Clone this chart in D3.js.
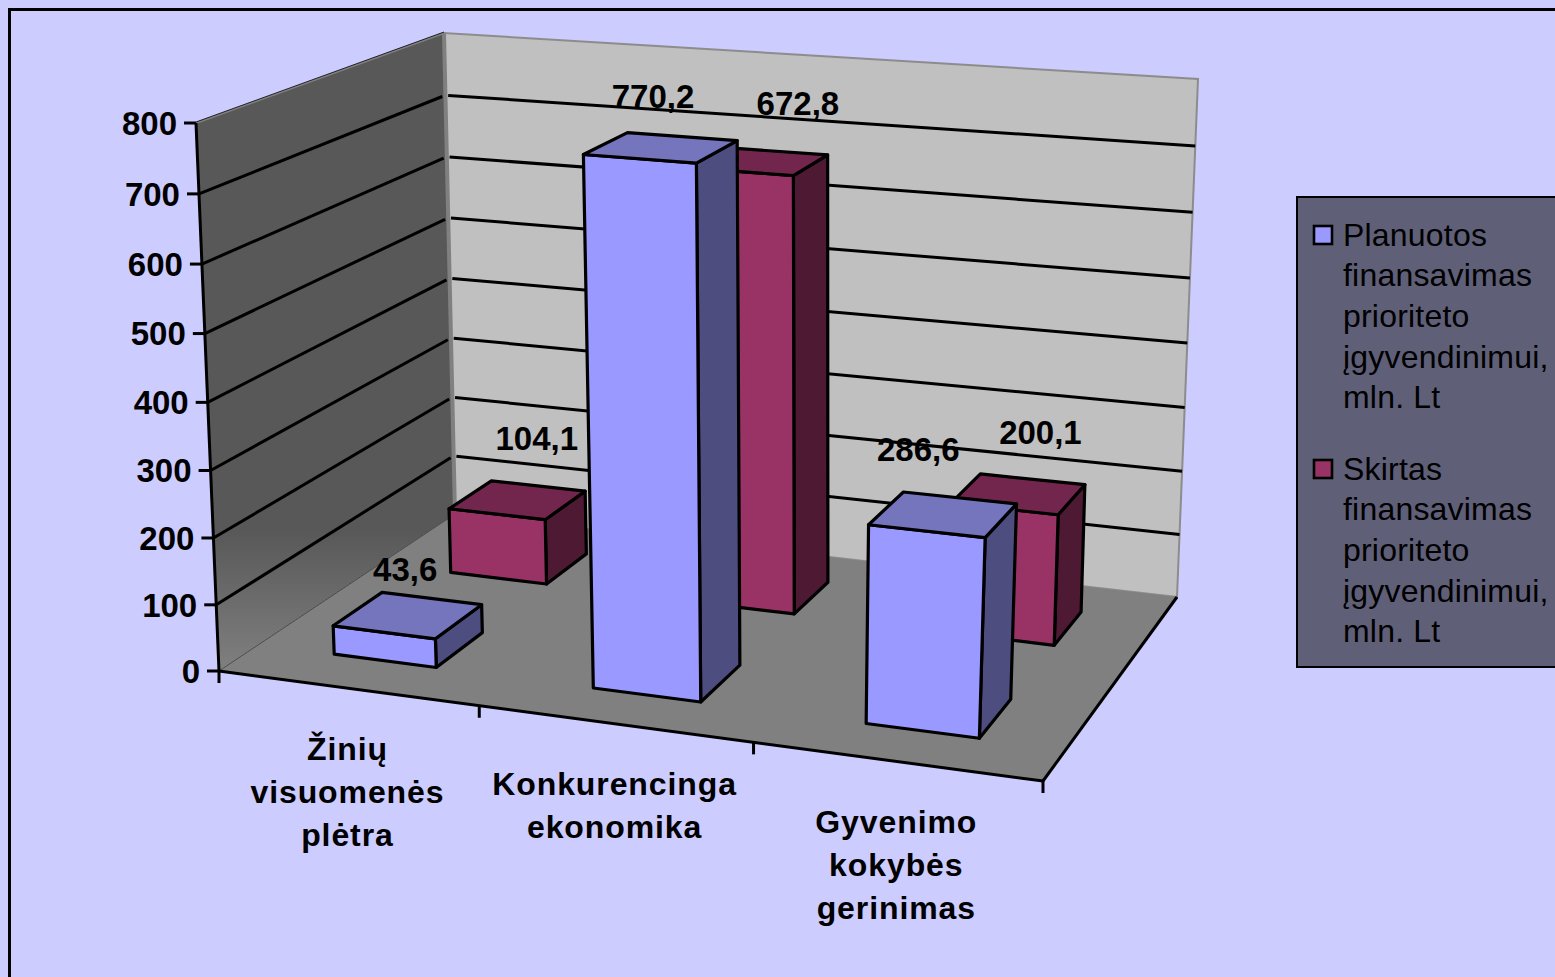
<!DOCTYPE html>
<html>
<head>
<meta charset="utf-8">
<script src="https://cdn.jsdelivr.net/npm/d3@7"></script>
<style>
    body { margin: 0; background: #ccccff; overflow: hidden; }
    text { font-family: "Liberation Sans", Arial, sans-serif; fill: #000; }
</style>
</head>
<body>
<div id="chart"></div>
<script>
// Data
const categories = [["Žinių", "visuomenės", "plėtra"], ["Konkurencinga", "ekonomika"], ["Gyvenimo", "kokybės", "gerinimas"]];
const seriesNames = ["Planuotos", "Skirtas"];
const legendLines = ["finansavimas", "prioriteto", "įgyvendinimui,", "mln. Lt"];
const planned = [43.6, 770.2, 286.6];
const granted = [104.1, 672.8, 200.1];
const yTicks = [0, 100, 200, 300, 400, 500, 600, 700, 800];

// Label nudges from the top of the bar, [planned, granted] per category
const labelNudge = [[[-3, -46], [19, -62]], [[-8, -51], [39, -58]], [[-25, -65], [22, -62]]];

// Colours: front, top, side
const colors = [
    { front: "#9999ff", top: "#7575bd", side: "#4d4d80" },
    { front: "#993366", top: "#73264d", side: "#4d1933" }
];

const width = 1555, height = 977;

// Corners of the plot box on screen: front-left, front-right, back-right, back-left
const floorQuad = [[219, 671], [1043, 781], [1177, 597], [455, 514]];
const topQuad = [[196, 123], [1068, 190], [1198, 79], [444, 33]];
const perspective = 1.04;

// Scales work in box units, project() turns them into pixels
const x = d3.scaleBand().domain(d3.range(categories.length)).range([0, 1]).paddingInner(0.6).paddingOuter(0.3);
const z = d3.scaleBand().domain(d3.range(seriesNames.length)).range([0, 1]).paddingInner(0.6).paddingOuter(0.3);
const y = d3.scaleLinear().domain([0, 800]).range([0, 1]);

function quadMap(q) {
    const [x0, y0] = q[0], [x1, y1] = q[1], [x2, y2] = q[2], [x3, y3] = q[3];
    const dx1 = x1 - x2, dx2 = x3 - x2, sx = x0 - x1 + x2 - x3;
    const dy1 = y1 - y2, dy2 = y3 - y2, sy = y0 - y1 + y2 - y3;
    const den = dx1 * dy2 - dx2 * dy1;
    const g = (sx * dy2 - dx2 * sy) / den, h = (dx1 * sy - sx * dy1) / den;
    const a = x1 - x0 + g * x1, b = x3 - x0 + h * x3;
    const d = y1 - y0 + g * y1, e = y3 - y0 + h * y3;
    return (u, v) => {
        const w = g * u + h * v + 1;
        return [(a * u + b * v + x0) / w, (d * u + e * v + y0) / w];
    };
}

const floorMap = quadMap(floorQuad), topMap = quadMap(topQuad);

function project(u, v, value) {
    const t = y(value);
    const s = t / (t + perspective * (1 - t));
    const p0 = floorMap(u, v), p1 = topMap(u, v);
    return [p0[0] + (p1[0] - p0[0]) * s, p0[1] + (p1[1] - p0[1]) * s];
}

const line = d3.line();
const closed = pts => line(pts) + "Z";

// Create SVG
const svg = d3.select("#chart")
    .append("svg")
    .attr("width", width)
    .attr("height", height);

const grad = svg.append("defs").append("linearGradient")
    .attr("id", "wallFade")
    .attr("gradientUnits", "userSpaceOnUse")
    .attr("x1", 0).attr("x2", 0).attr("y1", 530).attr("y2", 672);
grad.append("stop").attr("offset", 0).attr("stop-color", "#585858");
grad.append("stop").attr("offset", 1).attr("stop-color", "#808080");

// Chart frame
svg.append("rect")
    .attr("x", 9.5).attr("y", 9.5)
    .attr("width", width + 20).attr("height", height + 20)
    .attr("fill", "#ccccff")
    .attr("stroke", "#000")
    .attr("stroke-width", 3);

// Walls and floor
svg.append("path")
    .attr("d", closed([project(0, 1, 0), project(1, 1, 0), project(1, 1, 800), project(0, 1, 800)]))
    .attr("fill", "#c0c0c0")
    .attr("stroke", "#8c8c8c")
    .attr("stroke-width", 2);
svg.append("path")
    .attr("d", closed([project(0, 0, 0), project(0, 1, 0), project(0, 1, 800), project(0, 0, 800)]))
    .attr("fill", "url(#wallFade)");
svg.append("path")
    .attr("d", closed([project(0, 0, 0), project(1, 0, 0), project(1, 1, 0), project(0, 1, 0)]))
    .attr("fill", "#808080");

// Wall edges
svg.append("path")
    .attr("d", line([project(0, 1, 0), project(0, 1, 800)]))
    .attr("stroke", "#808080").attr("stroke-width", 4).attr("fill", "none");
svg.append("path")
    .attr("d", line([project(0, 0, 800), project(0, 1, 800)]))
    .attr("stroke", "#808080").attr("stroke-width", 2).attr("fill", "none");
svg.append("path")
    .attr("d", line([project(0, 0, 800), project(0, 1, 800)]))
    .attr("transform", "translate(0,-1)")
    .attr("stroke", "#000").attr("stroke-width", 0.8).attr("fill", "none");
svg.append("path")
    .attr("d", line([project(0, 0, 0), project(0, 1, 0)]))
    .attr("stroke", "#4a4a4a").attr("stroke-width", 1).attr("fill", "none");

// Gridlines
yTicks.filter(d => d > 0 && d < 800).forEach(d => {
    svg.append("path")
        .attr("d", line([project(0, 0, d), project(0, 0.985, d)]))
        .attr("stroke", "#000").attr("stroke-width", 3).attr("fill", "none");
    svg.append("path")
        .attr("d", line([project(0.004, 1, d), project(1, 1, d)]))
        .attr("stroke", "#000").attr("stroke-width", 3).attr("fill", "none");
});

// Y Axis
const axisStroke = { stroke: "#000", "stroke-width": 3, fill: "none" };
function axisLine(pts) {
    const p = svg.append("path").attr("d", line(pts));
    Object.entries(axisStroke).forEach(([k, v]) => p.attr(k, v));
}
axisLine([project(0, 0, 0), project(0, 0, 800)]);
yTicks.forEach(d => {
    const p = project(0, 0, d);
    axisLine([[p[0] - 12, p[1]], p]);
    svg.append("text")
        .attr("x", p[0] - 19)
        .attr("y", p[1])
        .attr("dy", "0.36em")
        .attr("text-anchor", "end")
        .attr("font-size", 33)
        .attr("font-weight", "bold")
        .text(d);
});

// X Axis
axisLine([project(0, 0, 0), project(1, 0, 0)]);
axisLine([project(1, 0, 0), project(1, 1, 0)]);
d3.range(categories.length + 1).forEach(i => {
    const p = project(i / categories.length, 0, 0);
    axisLine([p, [p[0], p[1] + 12]]);
});
categories.forEach((lines, i) => {
    const p = project(x(i) + x.bandwidth() / 2, 0, 0);
    lines.forEach((t, j) => {
        svg.append("text")
            .attr("x", p[0])
            .attr("y", p[1] + 60 + j * 43)
            .attr("dy", "0.36em")
            .attr("text-anchor", "middle")
            .attr("font-size", 32)
            .attr("font-weight", "bold")
            .attr("letter-spacing", 0.9)
            .text(t);
    });
});

// Bars, back row first
const rows = [planned, granted];
[1, 0].forEach(s => {
    rows[s].forEach((value, i) => {
        const u0 = x(i), u1 = x(i) + x.bandwidth();
        const v0 = z(s), v1 = z(s) + z.bandwidth();
        const faces = [
            { fill: colors[s].side, pts: [project(u1, v0, 0), project(u1, v1, 0), project(u1, v1, value), project(u1, v0, value)] },
            { fill: colors[s].front, pts: [project(u0, v0, 0), project(u1, v0, 0), project(u1, v0, value), project(u0, v0, value)] },
            { fill: colors[s].top, pts: [project(u0, v0, value), project(u1, v0, value), project(u1, v1, value), project(u0, v1, value)] }
        ];
        svg.append("g").selectAll("path")
            .data(faces)
            .enter().append("path")
            .attr("d", d => closed(d.pts))
            .attr("fill", d => d.fill)
            .attr("stroke", "#000")
            .attr("stroke-width", 3.2)
            .attr("stroke-linejoin", "round");
    });
});

// Value labels
rows.forEach((row, s) => {
    row.forEach((value, i) => {
        const p = project(x(i) + x.bandwidth() / 2, z(s) + z.bandwidth() / 2, value);
        svg.append("text")
            .attr("x", p[0] + labelNudge[i][s][0])
            .attr("y", p[1] + labelNudge[i][s][1])
            .attr("dy", "0.36em")
            .attr("text-anchor", "middle")
            .attr("font-size", 33)
            .attr("font-weight", "bold")
            .text(String(value).replace(".", ","));
    });
});

// Legend
svg.append("rect")
    .attr("x", 1297).attr("y", 197)
    .attr("width", 280).attr("height", 470)
    .attr("fill", "#5f5f78")
    .attr("stroke", "#000")
    .attr("stroke-width", 2);
seriesNames.forEach((name, s) => {
    const top = 234 + s * 234;
    svg.append("rect")
        .attr("x", 1314).attr("y", top - 8)
        .attr("width", 18).attr("height", 18)
        .attr("fill", colors[s].front)
        .attr("stroke", "#000")
        .attr("stroke-width", 2.6);
    [name].concat(legendLines).forEach((t, j) => {
        svg.append("text")
            .attr("x", 1343)
            .attr("y", top + j * 40.7)
            .attr("dy", "0.36em")
            .attr("font-size", 32)
            .attr("letter-spacing", 0.2)
            .text(t);
    });
});
</script>
</body>
</html>
